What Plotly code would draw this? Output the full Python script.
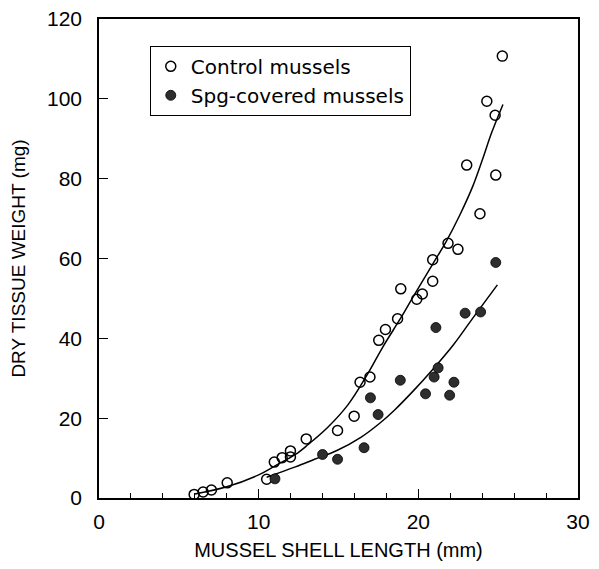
import plotly.graph_objects as go

# Control mussels (open circles)
ctrl_len = [5.96, 6.52, 7.04, 8.03, 10.5, 10.98, 11.47, 11.99, 11.99, 12.98, 14.94, 15.98,
            16.35, 16.97, 17.52, 17.94, 18.7, 18.9, 19.9, 20.25, 20.9, 20.9, 21.86, 22.48,
            23.03, 23.86, 24.29, 24.81, 24.85, 25.26]
ctrl_wt = [0.9, 1.5, 2.0, 3.8, 4.7, 9.0, 10.1, 10.3, 11.8, 14.8, 16.9, 20.5,
           29.0, 30.3, 39.5, 42.2, 44.9, 52.4, 49.8, 51.1, 54.3, 59.7, 63.8, 62.3,
           83.4, 71.2, 99.4, 95.9, 80.9, 110.7]

# Spg-covered mussels (filled circles)
spg_len = [11.02, 14.0, 14.94, 16.6, 17.0, 17.48, 18.87, 20.45, 20.99, 21.24, 21.1,
           21.96, 22.23, 22.93, 23.9, 24.85]
spg_wt = [4.8, 10.9, 9.7, 12.6, 25.1, 20.9, 29.5, 26.1, 30.3, 32.6, 42.7,
          25.75, 29.0, 46.3, 46.6, 59.0]

# Fitted curves
ctrl_fit_len = [6.0, 8.0, 10.0, 11.0, 12.3, 13.1, 14.3, 15.6, 16.8, 17.8, 18.9, 19.7,
                20.9, 21.75, 22.6, 23.4, 24.0, 24.6, 25.3]
ctrl_fit_wt = [1.0, 2.8, 5.8, 8.0, 10.9, 13.4, 17.6, 23.4, 30.9, 38.0, 45.1, 50.6,
               58.6, 64.3, 70.9, 78.0, 84.6, 91.6, 98.6]
spg_fit_len = [10.5, 12.3, 13.5, 14.9, 16.4, 17.6, 18.5, 19.7, 20.9, 22.2, 23.4, 24.95]
spg_fit_wt = [5.2, 7.8, 9.7, 11.9, 15.2, 18.8, 22.0, 26.9, 32.2, 38.4, 45.0, 53.4]

x_ticks = [0, 10, 20, 30]
y_ticks = [0, 20, 40, 60, 80, 100, 120]

FONT = "Liberation Sans, Arial, sans-serif"
LEGEND_FONT = "DejaVu Sans, Verdana, sans-serif"

fig = go.Figure()
fig.add_trace(go.Scatter(x=ctrl_fit_len, y=ctrl_fit_wt, mode="lines", line=dict(color="black", width=1.5, shape="spline"),
                         showlegend=False, hoverinfo="skip"))
fig.add_trace(go.Scatter(x=spg_fit_len, y=spg_fit_wt, mode="lines", line=dict(color="black", width=1.5, shape="spline"),
                         showlegend=False, hoverinfo="skip"))
fig.add_trace(go.Scatter(x=ctrl_len, y=ctrl_wt, mode="markers", name="Control mussels",
                         marker=dict(symbol="circle-open", size=10, color="black", line=dict(width=1.5, color="black"))))
fig.add_trace(go.Scatter(x=spg_len, y=spg_wt, mode="markers", name="Spg-covered mussels",
                         marker=dict(symbol="circle", size=10, color="#2e2e2e", line=dict(width=0.8, color="black"))))

fig.update_layout(
    width=583, height=553,
    margin=dict(l=91, r=13, t=11, b=63),
    paper_bgcolor="white", plot_bgcolor="white",
    font=dict(family=FONT, color="black"),
    legend=dict(x=0.106, y=0.944, xanchor="left", yanchor="top",
                bordercolor="black", borderwidth=1, bgcolor="white",
                font=dict(size=20, family=LEGEND_FONT), itemwidth=30, tracegroupgap=0),
    showlegend=True,
)
fig.update_xaxes(range=[0, 30], tickvals=x_ticks, ticks="inside", ticklen=9, tickwidth=1.2, tickcolor="black",
                 showline=True, linecolor="black", linewidth=1.5, mirror=True, showgrid=False, zeroline=False,
                 tickfont=dict(size=21), ticklabelstandoff=4, automargin=False, ticklabeloverflow="allow",
                 minor=dict(dtick=2, ticks="inside", ticklen=5, tickwidth=1, tickcolor="black"),
                 title=dict(text="MUSSEL SHELL LENGTH (mm)", font=dict(size=20), standoff=12))
fig.update_yaxes(range=[0, 120], tickvals=y_ticks, ticks="inside", ticklen=9, tickwidth=1.2, tickcolor="black",
                 showline=True, linecolor="black", linewidth=1.5, mirror=True, showgrid=False, zeroline=False,
                 tickfont=dict(size=21), ticklabelstandoff=11, automargin=False, ticklabeloverflow="allow",
                 title=dict(text="DRY TISSUE WEIGHT (mg)", font=dict(size=19), standoff=16))

fig.write_html("out.html")
